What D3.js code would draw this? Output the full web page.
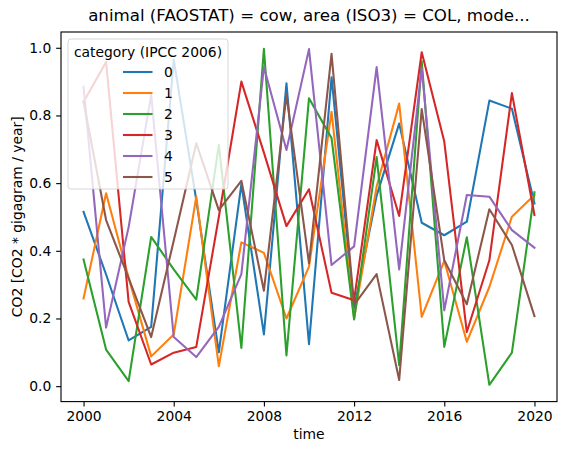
<!DOCTYPE html>
<html>
<head>
<meta charset="utf-8">
<script src="https://cdn.jsdelivr.net/npm/d3@7"></script>
<style>
  body { margin: 0; background: #fff; }
  text { font-family: "DejaVu Sans", sans-serif; fill: #000; }
</style>
</head>
<body>
<div id="chart"></div>
<script>
var YEARS = d3.range(2000, 2021),
CATEGORIES = ["0", "1", "2", "3", "4", "5"],
COLORS = ["#1f77b4", "#ff7f0e", "#2ca02c", "#d62728", "#9467bd", "#8c564b"],
TITLE = "animal (FAOSTAT) = cow, area (ISO3) = COL, mode...",
X_TICKS = [2000, 2004, 2008, 2012, 2016, 2020],
Y_TICKS = [0.0, 0.2, 0.4, 0.6, 0.8, 1.0];

// one value per year, 2000 .. 2020
var cat0 = [0.515, 0.33, 0.135, 0.175, 0.965, 0.55, 0.10, 0.597, 0.153, 0.895, 0.124,
            0.913, 0.23, 0.563, 0.776, 0.483, 0.446, 0.486, 0.844, 0.82, 0.54],
cat1 = [0.259, 0.57, 0.32, 0.088, 0.153, 0.56, 0.059, 0.425, 0.394, 0.2, 0.353,
        0.811, 0.2, 0.59, 0.835, 0.205, 0.37, 0.131, 0.293, 0.501, 0.565],
cat2 = [0.374, 0.108, 0.015, 0.441, 0.345, 0.256, 0.713, 0.113, 0.997, 0.091, 0.851,
        0.733, 0.197, 0.677, 0.062, 0.96, 0.116, 0.44, 0.004, 0.099, 0.573],
cat3 = [0.84, 0.958, 0.249, 0.064, 0.099, 0.116, 0.5, 0.9, 0.69, 0.473, 0.582,
        0.276, 0.254, 0.727, 0.503, 0.987, 0.723, 0.16, 0.372, 0.866, 0.506],
cat4 = [0.885, 0.173, 0.47, 0.861, 0.145, 0.086, 0.175, 0.331, 0.943, 0.698, 0.996,
        0.358, 0.413, 0.943, 0.345, 0.94, 0.224, 0.565, 0.56, 0.461, 0.409],
cat5 = [0.841, 0.491, 0.319, 0.145, 0.43, 0.718, 0.52, 0.607, 0.282, 0.861, 0.363,
        0.982, 0.24, 0.331, 0.018, 0.819, 0.372, 0.242, 0.523, 0.417, 0.207];

var SERIES = [cat0, cat1, cat2, cat3, cat4, cat5];

var W = 567, H = 455,
AX_L = 61, AX_R = 557, AX_T = 32, AX_B = 401.6,
PT = 100 / 72,
FONT = 10 * PT;

// matplotlib style 5% margins
function padded(ext) {
  var m = (ext[1] - ext[0]) * 0.05;
  return [ext[0] - m, ext[1] + m];
}

var x = d3.scaleLinear().domain(padded(d3.extent(YEARS))).range([AX_L, AX_R]),
y = d3.scaleLinear().domain(padded(d3.extent(d3.merge(SERIES)))).range([AX_B, AX_T]);

var svg = d3.select("#chart").append("svg")
  .attr("width", W)
  .attr("height", H);

var clip = svg.append("clipPath").attr("id", "ax")
  .append("rect")
  .attr("x", AX_L).attr("y", AX_T)
  .attr("width", AX_R - AX_L).attr("height", AX_B - AX_T);

var line = d3.line()
  .x(function(d, i) { return x(YEARS[i]); })
  .y(function(d) { return y(d); });

svg.append("g").attr("clip-path", "url(#ax)")
  .selectAll("path")
  .data(SERIES)
  .enter().append("path")
  .attr("d", line)
  .style("fill", "none")
  .style("stroke", function(d, i) { return COLORS[i]; })
  .style("stroke-width", 1.5 * PT)
  .style("stroke-linejoin", "round")
  .style("stroke-linecap", "square");

// axes
var xAxis = svg.append("g")
  .attr("transform", "translate(0," + AX_B + ")")
  .call(d3.axisBottom(x).tickValues(X_TICKS).tickFormat(d3.format("d"))
    .tickSize(3.5 * PT).tickPadding(3.5 * PT));

var yAxis = svg.append("g")
  .attr("transform", "translate(" + AX_L + ",0)")
  .call(d3.axisLeft(y).tickValues(Y_TICKS).tickFormat(d3.format(".1f"))
    .tickSize(3.5 * PT).tickPadding(3.5 * PT));

[xAxis, yAxis].forEach(function(g) {
  g.select(".domain").remove();
  g.selectAll(".tick line").style("stroke", "#000").style("stroke-width", 0.8 * PT);
  g.selectAll(".tick text").style("font-size", FONT + "px")
    .style("font-family", "DejaVu Sans").style("fill", "#000");
});

svg.append("rect")
  .attr("x", AX_L).attr("y", AX_T)
  .attr("width", AX_R - AX_L).attr("height", AX_B - AX_T)
  .style("fill", "none")
  .style("stroke", "#000")
  .style("stroke-width", 0.8 * PT);

// labels
svg.append("text")
  .attr("x", (AX_L + AX_R) / 2).attr("y", 21)
  .attr("text-anchor", "middle")
  .style("font-size", 12 * PT + "px")
  .text(TITLE);

svg.append("text")
  .attr("x", (AX_L + AX_R) / 2).attr("y", 439)
  .attr("text-anchor", "middle")
  .style("font-size", FONT + "px")
  .text("time");

svg.append("text")
  .attr("transform", "translate(22," + (AX_T + AX_B) / 2 + ") rotate(-90)")
  .attr("text-anchor", "middle")
  .style("font-size", FONT + "px")
  .text("CO2 [CO2 * gigagram / year]");

// legend
var lg = svg.append("g");
lg.append("rect")
  .attr("x", 68).attr("y", 39)
  .attr("width", 160).attr("height", 150)
  .attr("rx", 3)
  .style("fill", "#fff").style("fill-opacity", 0.8)
  .style("stroke", "#ccc").style("stroke-opacity", 0.8)
  .style("stroke-width", 1);

lg.append("text")
  .attr("x", 148).attr("y", 56.5)
  .attr("text-anchor", "middle")
  .style("font-size", FONT + "px")
  .text("category (IPCC 2006)");

var item = lg.selectAll("g.item")
  .data(CATEGORIES)
  .enter().append("g")
  .attr("class", "item")
  .attr("transform", function(d, i) { return "translate(0," + (72 + i * 21) + ")"; });

item.append("line")
  .attr("x1", 123).attr("x2", 152.5)
  .style("stroke", function(d, i) { return COLORS[i]; })
  .style("stroke-width", 1.5 * PT);

item.append("text")
  .attr("x", 164).attr("y", 5)
  .style("font-size", FONT + "px")
  .text(function(d) { return d; });
</script>
</body>
</html>
